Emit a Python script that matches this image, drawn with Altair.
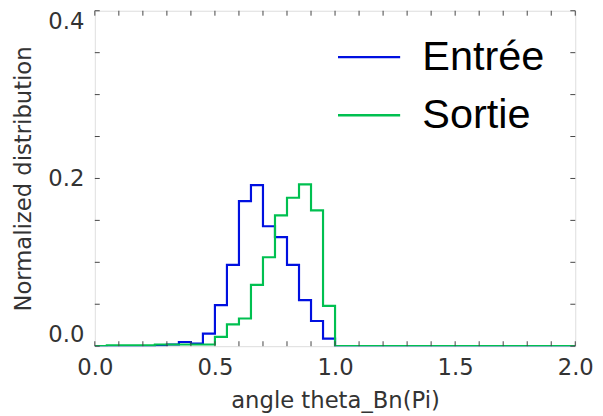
import altair as alt
import pandas as pd

# bin left edges (width 0.05) plus the closing edge at 2.0
edges = [round(i * 0.05, 2) for i in range(41)]

entree = [0.0, 0.0, 0.0, 0.0, 0.0, 0.001, 0.002, 0.005, 0.003, 0.015,
          0.049, 0.097, 0.173, 0.192, 0.143, 0.130, 0.097, 0.055, 0.030, 0.009,
          0.0, 0.0, 0.0, 0.0, 0.0, 0.0, 0.0, 0.0, 0.0, 0.0,
          0.0, 0.0, 0.0, 0.0, 0.0, 0.0, 0.0, 0.0, 0.0, 0.0, 0.0]
sortie = [0.0, 0.001, 0.001, 0.001, 0.001, 0.002, 0.002, 0.002, 0.002, 0.002,
          0.011, 0.026, 0.033, 0.073, 0.106, 0.156, 0.177, 0.193, 0.162, 0.048,
          0.0, 0.0, 0.0, 0.0, 0.0, 0.0, 0.0, 0.0, 0.0, 0.0,
          0.0, 0.0, 0.0, 0.0, 0.0, 0.0, 0.0, 0.0, 0.0, 0.0, 0.0]

series_names = ["Entrée", "Sortie"]
series_colors = ["#0010e0", "#00c050"]

x_tick_vals = [0.0, 0.1, 0.2, 0.3, 0.4, 0.5, 0.6, 0.7, 0.8, 0.9, 1.0,
               1.1, 1.2, 1.3, 1.4, 1.5, 1.6, 1.7, 1.8, 1.9, 2.0]
y_tick_vals = [0.0, 0.05, 0.1, 0.15, 0.2, 0.25, 0.3, 0.35, 0.4]
x_label_vals = [0.0, 0.5, 1.0, 1.5, 2.0]
y_label_vals = [0.0, 0.2, 0.4]

W, H = 487, 340
TL = 5

rows = []
for name, vals in zip(series_names, [entree, sortie]):
    for e, v in zip(edges, vals):
        rows.append({"angle": e, "dist": v, "series": name})
df = pd.DataFrame(rows)

xscale = alt.Scale(domain=[0, 2], nice=False, zero=False)
yscale = alt.Scale(domain=[0, 0.4], nice=False, zero=False)

font = "DejaVu Sans"
fs = 23
tfs = 23

x_axis = alt.Axis(values=x_label_vals, format=".1f", labelFlush=False,
                  grid=False, domain=False, ticks=False, tickSize=0,
                  labelPadding=11, labelFont=font, labelFontSize=fs,
                  labelColor="#333", titleFont=font, titleFontSize=tfs,
                  titleFontWeight="normal", titleColor="#333", titlePadding=10)
y_axis = alt.Axis(values=y_label_vals, format=".1f", labelFlush=True,
                  grid=False, domain=False, ticks=False, tickSize=0,
                  labelPadding=11, labelFont=font, labelFontSize=fs,
                  labelColor="#333", titleFont=font, titleFontSize=tfs,
                  titleFontWeight="normal", titleColor="#333", titlePadding=13)
x_title = "angle theta_Bn(Pi)"
y_title = "Normalized distribution"

lines = alt.Chart(df).mark_line(interpolate="step-after", strokeWidth=2.2, clip=True).encode(
    x=alt.X("angle:Q", scale=xscale, axis=x_axis, title=x_title),
    y=alt.Y("dist:Q", scale=yscale, axis=y_axis, title=y_title),
    color=alt.Color("series:N",
                    scale=alt.Scale(domain=series_names, range=series_colors),
                    legend=alt.Legend(orient="none", legendX=245, legendY=14, title=None,
                                      symbolType="stroke", symbolSize=3969,
                                      symbolStrokeWidth=2.5, labelFont="Liberation Sans",
                                      labelFontSize=42, labelColor="black",
                                      labelOffset=21, rowPadding=5, padding=0)),
    order=alt.Order("series:N"),
)

xt = pd.DataFrame({"v": x_tick_vals})
yt = pd.DataFrame({"v": y_tick_vals})
tick_color = "#444"

xb = alt.Chart(xt).mark_rule(color=tick_color).encode(
    x=alt.X("v:Q", scale=xscale, axis=x_axis, title=x_title), y=alt.value(H), y2=alt.value(H - TL))
xtop = alt.Chart(xt).mark_rule(color=tick_color).encode(
    x=alt.X("v:Q", scale=xscale, axis=x_axis, title=x_title), y=alt.value(0), y2=alt.value(TL))
yl = alt.Chart(yt).mark_rule(color=tick_color).encode(
    y=alt.Y("v:Q", scale=yscale, axis=y_axis, title=y_title), x=alt.value(0), x2=alt.value(TL))
yr = alt.Chart(yt).mark_rule(color=tick_color).encode(
    y=alt.Y("v:Q", scale=yscale, axis=y_axis, title=y_title), x=alt.value(W), x2=alt.value(W - TL))

chart = alt.layer(lines, xb, xtop, yl, yr).properties(
    width=W, height=H,
    autosize=alt.AutoSizeParams(type="none"),
    padding={"left": 88, "top": 0, "right": 20, "bottom": 68},
).configure_view(stroke="#111", strokeWidth=1).configure(background="white")

chart.save("out.html", embed_options={"renderer": "svg", "actions": False})
